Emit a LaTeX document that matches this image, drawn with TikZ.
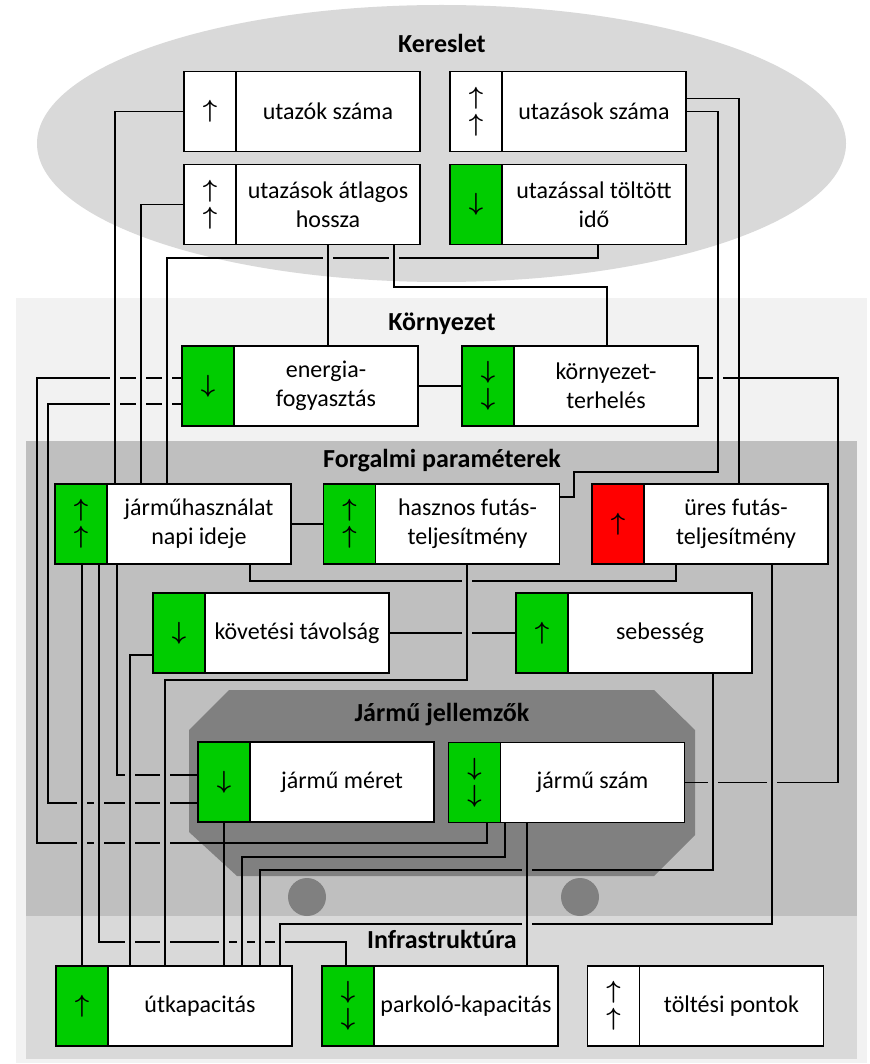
\documentclass[tikz,border=0pt]{standalone}
\usepackage{fontspec}
\setmainfont{Carlito}
\definecolor{grn}{HTML}{00CC00}
\definecolor{rd}{HTML}{FF0000}
\definecolor{pale}{HTML}{F2F2F2}
\definecolor{ellc}{HTML}{D9D9D9}
\definecolor{midg}{HTML}{BFBFBF}
\definecolor{dark}{HTML}{808080}
\definecolor{infc}{HTML}{D9D9D9}
\tikzset{
  boxframe/.style={draw=black, fill=white, line width=1.2pt, minimum width=236pt, minimum height=80pt, inner sep=0pt},
  cell/.style={draw=black, line width=1.2pt, minimum width=52pt, minimum height=80pt, inner sep=0pt, align=center, font=\fontsize{24}{27}\selectfont\boldmath},
  boxtext/.style={inner sep=0pt, align=center, font=\fontsize{24}{29}\selectfont},
  title/.style={inner sep=0pt, font=\fontsize{26}{31}\selectfont\bfseries},
  conn/.style={draw=black, line width=1.2pt},
}
\newcommand{\up}{$\uparrow$}
\newcommand{\dn}{$\downarrow$}
\newcommand{\mkbox}[6]{%
  \node[boxframe] (#1) at (#2,#3) {};
  \node[cell, fill=#4, anchor=north west] (#1-i) at (#1.north west) {#5};
  \node[boxtext] (#1-t) at ([xshift=26pt]#1.center) {#6};
}
\newcommand{\xgap}[3]{%
  \fill[#3] (#1-5,#2-2.4) rectangle (#1+5,#2+2.4);
  \draw[conn] (#1,#2-4) -- (#1,#2+4);
}
\begin{document}
\begin{tikzpicture}[x=1pt,y=-1pt]
\useasboundingbox (0,0) rectangle (869,1064);
\fill[white] (0,0) rectangle (869,1064);
% panels
\fill[pale] (16,298) rectangle (867,1063);
\fill[midg] (26,441) rectangle (857,916);
\fill[infc] (26,916) rectangle (857,1059);
\fill[ellc] (441.5,143.5) ellipse [x radius=404.5pt, y radius=138.5pt];
\fill[dark] (229,690) -- (654,690) -- (695,730) -- (695,835) -- (654,876) -- (237,876) -- (189,832) -- (189,730) -- cycle;
\fill[dark] (307,897) circle[radius=19pt];
\fill[dark] (580,897) circle[radius=19pt];
% titles
\node[title, anchor=base] (tK) at (442,53) {Kereslet};
\node[title, anchor=base] (tKo) at (442,330) {Környezet};
\node[title, anchor=base] (tF) at (442,467) {Forgalmi paraméterek};
\node[title, anchor=base] (tJ) at (442,721) {Jármű jellemzők};
\node[title, anchor=base] (tI) at (442,948) {Infrastruktúra};
% boxes
\mkbox{A1}{302}{111.5}{white}{\up}{utazók száma}
\mkbox{A2}{568}{111.5}{white}{\up\\\up}{utazások száma}
\mkbox{A3}{302}{204.5}{white}{\up\\\up}{utazások átlagos\\hossza}
\mkbox{A4}{568}{204.5}{grn}{\dn}{utazással töltött\\idő}
\mkbox{K1}{300}{386}{grn}{\dn}{energia-\\fogyasztás}
\mkbox{K2}{580}{386}{grn}{\dn\\\dn}{környezet-\\terhelés}
\mkbox{F1}{173}{524}{grn}{\up\\\up}{járműhasználat\\napi ideje}
\mkbox{F2}{441.5}{524}{grn}{\up\\\up}{hasznos futás-\\teljesítmény}
\mkbox{F3}{710}{524}{rd}{\up}{üres futás-\\teljesítmény}
\mkbox{F4}{271}{633}{grn}{\dn}{követési távolság}
\mkbox{F5}{634}{633}{grn}{\up}{sebesség}
\mkbox{J1}{316}{782}{grn}{\dn}{jármű méret}
\mkbox{J2}{566.5}{782.5}{grn}{\dn\\\dn}{jármű szám}
\mkbox{I1}{174}{1006}{grn}{\up}{útkapacitás}
\mkbox{I2}{440}{1006}{grn}{\dn\\\dn}{parkoló-kapacitás}
\mkbox{I3}{705.5}{1006}{white}{\up\\\up}{töltési pontok}
% connectors
\draw[conn] (A1.west) -| (F1.north -| 115,0);
\draw[conn] (A3.west) -| (F1.north -| 141,0);
\draw[conn] (A4.south -| 598,0) -- (598,258) -| (F1.north -| 167,0);
\draw[conn] (A3.south -| 328,0) -- (K1.north -| 328,0);
\draw[conn] (A3.south -| 394,0) -- (394,287) -| (K2.north -| 607,0);
\draw[conn] (K1.east) -- (K2.west);
\draw[conn] ([yshift=13pt]A2.east) -| (F3.north -| 739,0);
\draw[conn] (A2.east) -| (718,472) -| (574,497) -- (F2.east |- 0,497);
\draw[conn] ([yshift=8pt]K2.east) -| (J2.east -| 838,0) -- (J2.east);
\draw[conn] ([yshift=8pt]K1.west) -| (37,843) -| (J2.south -| 487,0);
\draw[conn] ([yshift=-18pt]K1.west) -| (48,803) -- (J1.west |- 0,803);
\draw[conn] (F1.east) -- (F2.west);
\draw[conn] (F1.south -| 250,0) -- (250,581) -| (F3.south -| 676,0);
\draw[conn] (F1.south -| 117,0) |- (J1.west |- 0,775);
\draw[conn] (F1.south -| 82,0) -- (I1.north -| 82,0);
\draw[conn] (F1.south -| 99,0) -- (99,942) -| (I2.north -| 346,0);
\draw[conn] (F2.south -| 467,0) -- (467,680) -| (I1.north -| 165,0);
\draw[conn] (F4.west |- 0,655) -| (I1.north -| 130,0);
\draw[conn] (F4.east) -- (F5.west);
\draw[conn] (F5.south -| 713,0) -- (713,870) -| (I1.north -| 260,0);
\draw[conn] (F3.south -| 772,0) -- (772,924) -| (I1.north -| 280,0);
\draw[conn] (J1.south -| 224,0) -- (I1.north -| 224,0);
\draw[conn] (J2.south -| 505,0) -- (505,857) -| (I1.north -| 242,0);
\draw[conn] (J2.south -| 527,0) -- (I2.north -| 527,0);
% crossing gaps
\xgap{328}{258}{ellc}\xgap{394}{258}{ellc}
\xgap{115}{378}{pale}\xgap{141}{378}{pale}\xgap{167}{378}{pale}
\xgap{115}{404}{pale}\xgap{141}{404}{pale}\xgap{167}{404}{pale}
\xgap{718}{378}{pale}
\xgap{467}{581}{midg}\xgap{467}{633}{midg}
\xgap{130}{775}{midg}\xgap{165}{775}{midg}
\xgap{82}{803}{midg}\xgap{99}{803}{midg}\xgap{130}{803}{midg}\xgap{165}{803}{midg}
\xgap{82}{843}{midg}\xgap{99}{843}{midg}\xgap{130}{843}{midg}\xgap{165}{843}{midg}
\xgap{527}{870}{dark}\xgap{527}{924}{infc}
\xgap{130}{942}{infc}\xgap{165}{942}{infc}\xgap{224}{942}{infc}\xgap{242}{942}{infc}\xgap{260}{942}{infc}\xgap{280}{942}{infc}
\xgap{713}{782}{midg}\xgap{772}{782}{midg}
\end{tikzpicture}
\end{document}
